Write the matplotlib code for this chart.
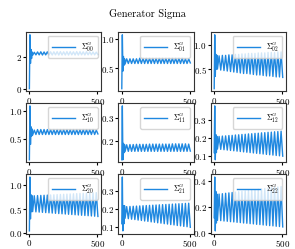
import numpy as np
import matplotlib
matplotlib.use('Agg')
import matplotlib.pyplot as plt

plt.rcParams['font.family'] = 'serif'
plt.rcParams['font.serif'] = ['cmr10', 'DejaVu Serif']
plt.rcParams['mathtext.fontset'] = 'cm'
plt.rcParams['axes.formatter.use_mathtext'] = True
plt.rcParams['font.size'] = 6

# iteration steps: short transient, then one point per half oscillation
head_steps = list(range(0, 24, 4))
osc_steps = list(range(24, 505, 12))

labels = ['00', '01', '02', '10', '11', '12', '20', '21', '22']

# transient values at head_steps
head00 = [0.05, 3.35, 1.60, 2.45, 1.90, 2.30]
head01 = [0.15, 1.07, 0.45, 0.70, 0.55, 0.66]
head02 = [0.10, 1.20, 0.35, 0.80, 0.50, 0.78]
head10 = [0.12, 1.10, 0.40, 0.72, 0.55, 0.68]
head11 = [0.12, 0.35, 0.12, 0.19, 0.15, 0.185]
head12 = [0.12, 0.38, 0.08, 0.22, 0.12, 0.21]
head20 = [0.05, 1.17, 0.30, 0.80, 0.45, 0.78]
head21 = [0.12, 0.38, 0.08, 0.22, 0.12, 0.22]
head22 = [0.12, 0.43, 0.02, 0.32, 0.08, 0.30]

# troughs (21) and peaks (20) of the oscillation
lo00 = [2.10, 2.12, 2.12, 2.11, 2.12, 2.11, 2.11, 2.12, 2.11, 2.11, 2.11,
        2.11, 2.12, 2.11, 2.11, 2.12, 2.11, 2.12, 2.12, 2.12, 2.14]
hi00 = [2.28, 2.30, 2.31, 2.30, 2.31, 2.31, 2.31, 2.32, 2.32, 2.31,
        2.32, 2.32, 2.31, 2.32, 2.32, 2.31, 2.32, 2.31, 2.30, 2.29]
lo01 = [0.57, 0.58, 0.58, 0.58, 0.58, 0.58, 0.58, 0.58, 0.58, 0.58, 0.58,
        0.58, 0.58, 0.58, 0.58, 0.58, 0.58, 0.58, 0.58, 0.58, 0.59]
hi01 = [0.66, 0.66, 0.66, 0.66, 0.67, 0.67, 0.67, 0.67, 0.67, 0.67,
        0.67, 0.67, 0.67, 0.67, 0.67, 0.67, 0.67, 0.67, 0.66, 0.66]
lo02 = [0.50, 0.48, 0.47, 0.46, 0.45, 0.44, 0.43, 0.42, 0.41, 0.41, 0.40,
        0.39, 0.38, 0.38, 0.37, 0.36, 0.36, 0.35, 0.34, 0.34, 0.33]
hi02 = [0.77, 0.78, 0.78, 0.79, 0.79, 0.80, 0.80, 0.81, 0.81, 0.82,
        0.82, 0.82, 0.83, 0.83, 0.83, 0.84, 0.84, 0.84, 0.85, 0.85]
lo10 = [0.57, 0.58, 0.58, 0.58, 0.58, 0.58, 0.58, 0.58, 0.58, 0.58, 0.58,
        0.58, 0.58, 0.58, 0.58, 0.58, 0.58, 0.58, 0.58, 0.58, 0.59]
hi10 = [0.66, 0.67, 0.67, 0.67, 0.67, 0.67, 0.67, 0.67, 0.67, 0.67,
        0.67, 0.67, 0.67, 0.67, 0.67, 0.67, 0.67, 0.67, 0.67, 0.66]
lo11 = [0.155, 0.156, 0.156, 0.156, 0.156, 0.156, 0.156, 0.156, 0.156, 0.156, 0.156,
        0.156, 0.156, 0.156, 0.156, 0.156, 0.156, 0.156, 0.156, 0.156, 0.157]
hi11 = [0.184, 0.185, 0.185, 0.186, 0.186, 0.186, 0.186, 0.187, 0.187, 0.187,
        0.187, 0.187, 0.187, 0.187, 0.188, 0.188, 0.188, 0.188, 0.188, 0.187]
lo12 = [0.140, 0.138, 0.136, 0.134, 0.132, 0.130, 0.128, 0.126, 0.124, 0.122, 0.120,
        0.118, 0.116, 0.114, 0.112, 0.110, 0.108, 0.106, 0.104, 0.102, 0.100]
hi12 = [0.210, 0.212, 0.213, 0.215, 0.216, 0.218, 0.219, 0.221, 0.222, 0.224,
        0.225, 0.227, 0.228, 0.230, 0.231, 0.233, 0.234, 0.236, 0.237, 0.239]
lo20 = [0.45, 0.445, 0.44, 0.435, 0.43, 0.425, 0.42, 0.415, 0.41, 0.405, 0.40,
        0.395, 0.39, 0.385, 0.38, 0.375, 0.37, 0.365, 0.36, 0.355, 0.35]
hi20 = [0.78, 0.784, 0.787, 0.79, 0.794, 0.797, 0.80, 0.804, 0.807, 0.81,
        0.814, 0.817, 0.82, 0.824, 0.827, 0.83, 0.834, 0.837, 0.84, 0.845]
lo21 = [0.150, 0.148, 0.145, 0.143, 0.140, 0.138, 0.135, 0.133, 0.130, 0.128, 0.125,
        0.123, 0.120, 0.118, 0.115, 0.113, 0.110, 0.108, 0.105, 0.103, 0.100]
hi21 = [0.215, 0.216, 0.217, 0.218, 0.219, 0.220, 0.221, 0.222, 0.223, 0.224,
        0.225, 0.226, 0.227, 0.228, 0.229, 0.230, 0.231, 0.232, 0.233, 0.234]
lo22 = [0.100, 0.098, 0.095, 0.093, 0.090, 0.088, 0.085, 0.083, 0.080, 0.078, 0.075,
        0.073, 0.070, 0.068, 0.065, 0.063, 0.060, 0.058, 0.055, 0.053, 0.050]
hi22 = [0.300, 0.303, 0.306, 0.309, 0.312, 0.315, 0.318, 0.321, 0.324, 0.327,
        0.330, 0.333, 0.336, 0.339, 0.342, 0.345, 0.348, 0.351, 0.354, 0.357]

heads = [head00, head01, head02, head10, head11, head12, head20, head21, head22]
los = [lo00, lo01, lo02, lo10, lo11, lo12, lo20, lo21, lo22]
his = [hi00, hi01, hi02, hi10, hi11, hi12, hi20, hi21, hi22]

fig, axes = plt.subplots(3, 3, figsize=(2.95, 2.49), dpi=100)
fig.subplots_adjust(left=0.088, right=0.97, top=0.871, bottom=0.062,
                    wspace=0.226, hspace=0.2)
fig.suptitle('Generator Sigma', y=0.965, fontsize=7.5, fontweight='bold')

for k, ax in enumerate(axes.flat):
    osc = []
    for i in range(len(his[k])):
        osc.append(los[k][i])
        osc.append(his[k][i])
    osc.append(los[k][-1])
    x = head_steps + osc_steps
    y = heads[k] + osc
    ax.plot(x, y, color='#1f88e0', lw=1.0,
            label=r'$\Sigma^{G}_{' + labels[k] + '}$')
    ax.set_xticks([0, 500])
    ax.tick_params(labelsize=6.5, length=2, pad=1)
    for s in ax.spines.values():
        s.set_color('#333333')
    ax.legend(loc='upper right', fontsize=5.5, handlelength=3.0,
              borderpad=0.5, framealpha=0.8)

fig.savefig('out.png', dpi=100)
